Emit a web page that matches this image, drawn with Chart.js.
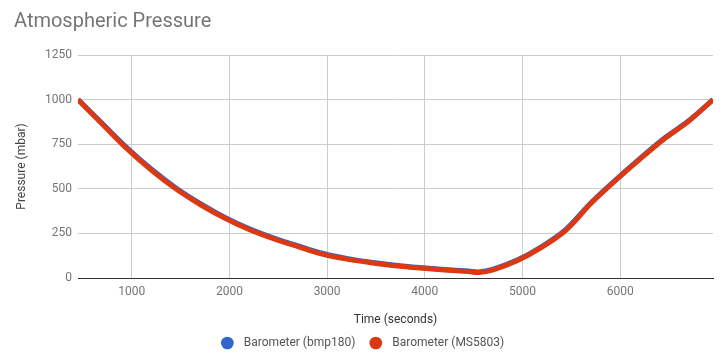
<!DOCTYPE html>
<html>
<head>
<meta charset="utf-8">
<script src="https://cdn.jsdelivr.net/npm/chart.js@4.4.0/dist/chart.umd.min.js"></script>
<style>
  body { margin: 0; background: #fff; }
  #wrap { width: 723px; height: 357px; }
</style>
</head>
<body>
<div id="wrap"><canvas id="mycanvas"></canvas></div>
<script>
// time in seconds
var times = [450, 700, 950, 1200, 1450, 1700, 1950, 2200, 2450, 2700, 2950, 3200, 3450, 3700,
             3950, 4200, 4450, 4550, 4700, 4950, 5200, 5450, 5700, 5950, 6200, 6450, 6700, 6950];
// pressure (mbar)
var bmp180 = [1000, 866, 731, 611, 506, 418, 341, 277, 225, 181, 139, 110, 89, 72,
              59, 48, 39, 34, 50, 102, 178, 276, 422, 549, 669, 783, 881, 1000];
var ms5803 = [1000, 862, 725, 605, 500, 412, 336, 272, 220, 176, 134, 106, 86, 69,
              56, 45, 36, 31, 46, 98, 173, 270, 417, 545, 665, 779, 878, 1000];
var xTicks = [1000, 2000, 3000, 4000, 5000, 6000];
var yTicks = [0, 250, 500, 750, 1000, 1250];

var FONT = "Roboto, 'Noto Sans', Arial, sans-serif";

function toPoints(ys) {
  var pts = [];
  for (var i in times) {
    pts.push({x: times[i], y: ys[i]});
  }
  return pts;
}

var chartdata = {
  datasets: [
    {
      label: "Barometer (bmp180)",
      data: toPoints(bmp180),
      borderColor: "#3366cc",
      backgroundColor: "#3366cc",
      borderWidth: 5,
      pointRadius: 0,
      tension: 0.3,
      order: 2
    },
    {
      label: "Barometer (MS5803)",
      data: toPoints(ms5803),
      borderColor: "#dc3912",
      backgroundColor: "#dc3912",
      borderWidth: 5,
      pointRadius: 0,
      tension: 0.3,
      order: 1
    }
  ]
};

var ctx = document.getElementById("mycanvas");

var LineGraph = new Chart(ctx, {
  type: 'line',
  data: chartdata,
  options: {
    responsive: true,
    maintainAspectRatio: false,
    animation: false,
    layout: { padding: { left: 14, right: 10, top: 10, bottom: -2 } },
    plugins: {
      tooltip: { enabled: false },
      title: {
        display: true,
        text: "Atmospheric Pressure",
        align: 'start',
        color: "#757575",
        font: { family: FONT, size: 20, weight: 'normal' },
        padding: { top: 0, bottom: 21 }
      },
      legend: {
        position: 'bottom',
        labels: {
          usePointStyle: true,
          pointStyle: 'circle',
          boxWidth: 9,
          boxHeight: 9,
          padding: 10,
          color: "#555",
          font: { family: FONT, size: 12 },
          sort: function(a, b) { return a.datasetIndex - b.datasetIndex; },
          generateLabels: function(chart) {
            var items = Chart.defaults.plugins.legend.labels.generateLabels(chart);
            items.forEach(function(it) {
              it.lineWidth = 0;
              it.pointStyle = 'circle';
              // a little more room between the dot and the text, and between items
              it.text = "  " + it.text + (it.datasetIndex === 0 ? "  " : "");
            });
            return items;
          }
        }
      }
    },
    scales: {
      x: {
        type: 'linear',
        min: 450,
        max: 6950,
        afterBuildTicks: function(scale) {
          scale.ticks = xTicks.map(function(v) { return {value: v}; });
        },
        afterFit: function(scale) { scale.height = 49; },
        grid: { color: "#cccccc", drawTicks: false },
        border: { display: true, color: "#333333", width: 1 },
        ticks: {
          padding: 7,
          color: "#757575",
          font: { family: FONT, size: 12 },
          maxRotation: 0,
          callback: function(v) { return String(v); }
        },
        title: {
          display: true,
          text: "Time (seconds)",
          color: "#333",
          font: { family: FONT, size: 12 },
          padding: { top: 0, bottom: 0 }
        }
      },
      y: {
        min: 0,
        max: 1250,
        afterBuildTicks: function(scale) {
          scale.ticks = yTicks.map(function(v) { return {value: v}; });
        },
        afterFit: function(scale) { scale.width = 64; },
        grid: {
          color: function(c) { return c.tick && c.tick.value === 0 ? "rgba(0,0,0,0)" : "#cccccc"; },
          drawTicks: false
        },
        border: { display: false },
        ticks: {
          padding: 6,
          color: "#757575",
          font: { family: FONT, size: 12 },
          callback: function(v) { return String(v); }
        },
        title: {
          display: true,
          text: "Pressure (mbar)",
          color: "#444",
          font: { family: FONT, size: 12 },
          padding: { top: 1, bottom: 0 }
        }
      }
    }
  }
});
</script>
</body>
</html>
